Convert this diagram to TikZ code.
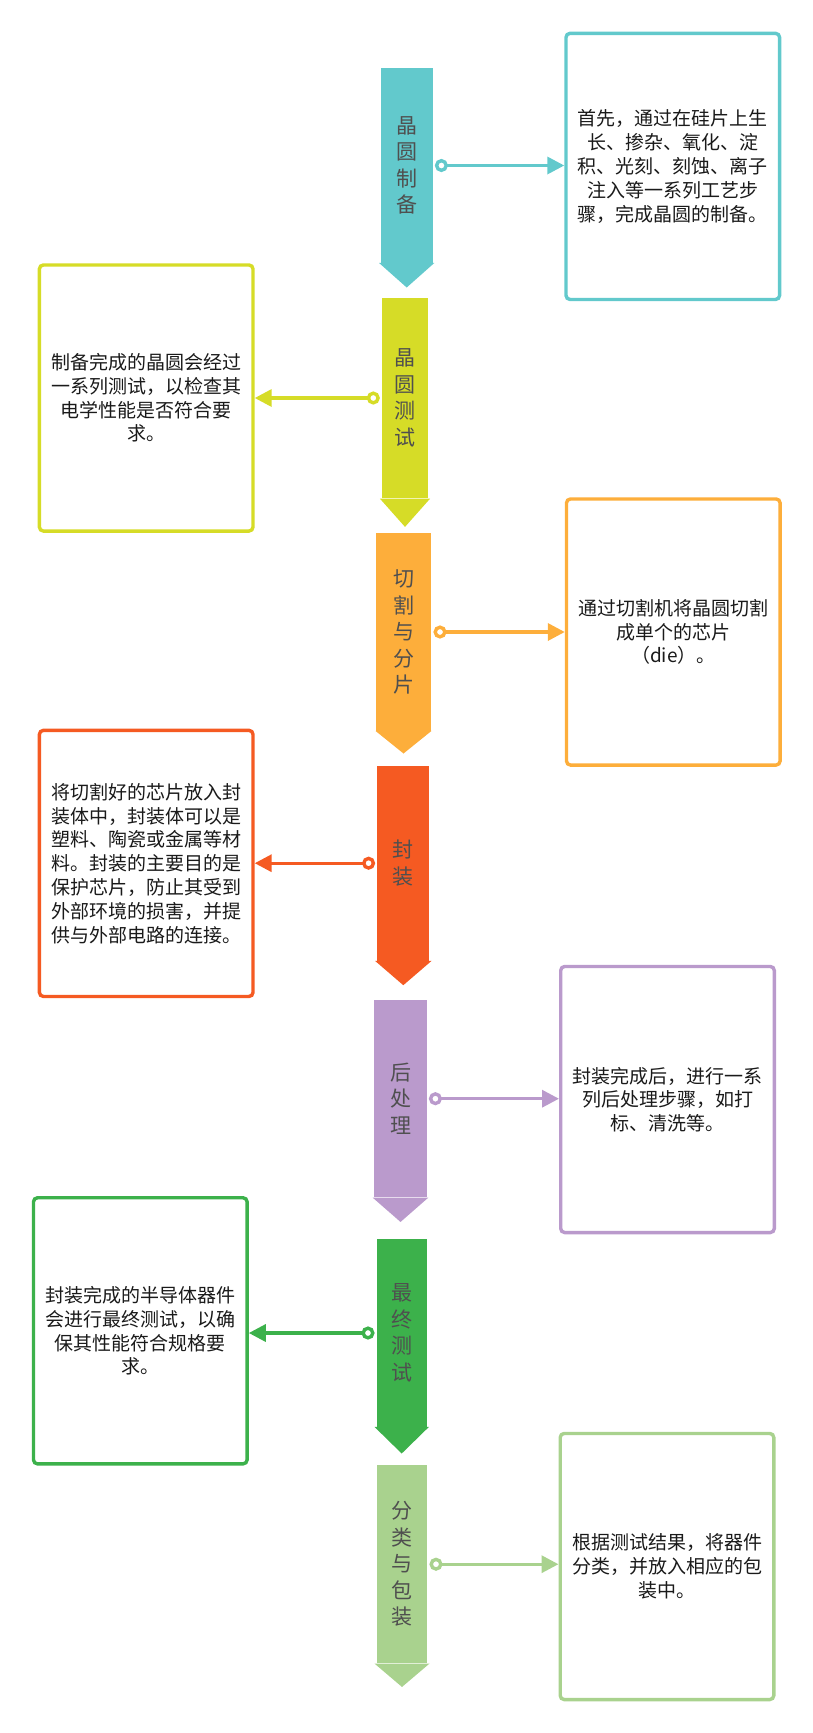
\documentclass[tikz,border=0pt]{standalone}
\usepackage{fontspec}
\setmainfont{Noto Sans CJK SC}
\usetikzlibrary{arrows.meta,calc}
\definecolor{cteal}{HTML}{62C9CC}
\definecolor{cyell}{HTML}{D6DC27}
\definecolor{corng}{HTML}{FDAE3B}
\definecolor{cred}{HTML}{F55A22}
\definecolor{cpurp}{HTML}{BA9ACC}
\definecolor{cgrn}{HTML}{3CB14B}
\definecolor{clgrn}{HTML}{A9D28E}
\definecolor{lblgray}{HTML}{4F4F4F}
\definecolor{txtblack}{HTML}{1A1A1A}
\begin{document}
\begin{tikzpicture}[x=1pt,y=-1pt,
  body/.style={fill=#1, inner sep=0pt, text=lblgray,
    font=\fontsize{21}{26.5}\selectfont, align=center},
  desc/.style={draw=#1, line width=3.4pt, rounded corners=4pt, fill=white,
    minimum width=213.6pt, minimum height=266.1pt, inner sep=0pt,
    text=txtblack, font=\fontsize{19}{23.8}\selectfont, align=center},
  conn/.style={draw=#1, line width=3.4pt, shorten <=2pt,
    {Circle[length=13pt,width=13pt,fill=white]}-{Triangle[length=17pt,width=17pt]}}
]
\useasboundingbox (0,0) rectangle (813,1733);

% ---- process arrows ----
\node[body=cteal, minimum width=52pt, minimum height=194.4pt] (a1) at (406.7,165.5) {晶\\圆\\制\\备};
\fill[cteal] ([xshift=-1.5pt]a1.south west) -- ([xshift=1.5pt]a1.south east) -- ([yshift=-24.6pt]a1.south) -- cycle;

\node[body=cyell, minimum width=46pt, minimum height=200.6pt] (a2) at (405,398) {晶\\圆\\测\\试};
\fill[cyell] ([xshift=-2pt]a2.south west) -- ([xshift=2pt]a2.south east) -- ([yshift=-28.4pt]a2.south) -- cycle;

\node[body=corng, minimum width=55.6pt, minimum height=197.4pt] (a3) at (403.5,632) {切\\割\\与\\分\\片};
\fill[corng] (a3.south west) -- (a3.south east) -- ([yshift=-22.6pt]a3.south) -- cycle;

\node[body=cred, minimum width=52pt, minimum height=195pt] (a4) at (403.3,863.2) {封\\装};
\fill[cred] ([xshift=-2pt]a4.south west) -- ([xshift=2pt]a4.south east) -- ([yshift=-24.3pt]a4.south) -- cycle;

\node[body=cpurp, minimum width=52.4pt, minimum height=197.3pt] (a5) at (400.5,1098.7) {后\\处\\理};
\fill[cpurp] ([xshift=-1.5pt]a5.south west) -- ([xshift=1.5pt]a5.south east) -- ([yshift=-24.4pt]a5.south) -- cycle;

\node[body=cgrn, minimum width=50pt, minimum height=187.4pt] (a6) at (401.7,1333) {最\\终\\测\\试};
\fill[cgrn] ([xshift=-2pt]a6.south west) -- ([xshift=2pt]a6.south east) -- ([yshift=-26.6pt]a6.south) -- cycle;

\node[body=clgrn, minimum width=50.6pt, minimum height=198.3pt] (a7) at (402,1564.2) {分\\类\\与\\包\\装};
\fill[clgrn] ([xshift=-2pt]a7.south west) -- ([xshift=2pt]a7.south east) -- ([yshift=-23.4pt]a7.south) -- cycle;

% ---- description boxes ----
\node[desc=cteal] (b1) at (672.8,166.4) {首先，通过在硅片上生\\长、掺杂、氧化、淀\\积、光刻、刻蚀、离子\\注入等一系列工艺步\\骤，完成晶圆的制备。};
\node[desc=cyell] (b2) at (146.2,398) {制备完成的晶圆会经过\\一系列测试，以检查其\\电学性能是否符合要\\求。};
\node[desc=corng] (b3) at (673.3,632) {通过切割机将晶圆切割\\成单个的芯片\\（die）。};
\node[desc=cred] (b4) at (146.2,863.4) {将切割好的芯片放入封\\装体中，封装体可以是\\塑料、陶瓷或金属等材\\料。封装的主要目的是\\保护芯片，防止其受到\\外部环境的损害，并提\\供与外部电路的连接。};
\node[desc=cpurp] (b5) at (667.5,1099.5) {封装完成后，进行一系\\列后处理步骤，如打\\标、清洗等。};
\node[desc=cgrn] (b6) at (140.3,1330.8) {封装完成的半导体器件\\会进行最终测试，以确\\保其性能符合规格要\\求。};
\node[desc=clgrn] (b7) at (667,1566.5) {根据测试结果，将器件\\分类，并放入相应的包\\装中。};

% ---- connectors ----
\draw[conn=cteal] (a1.east) -- (a1.east -| b1.west);
\draw[conn=cyell] (a2.west) -- (a2.west -| b2.east);
\draw[conn=corng] (a3.east) -- (a3.east -| b3.west);
\draw[conn=cred] (a4.west) -- (a4.west -| b4.east);
\draw[conn=cpurp] (a5.east) -- (a5.east -| b5.west);
\draw[conn=cgrn] (a6.west) -- (a6.west -| b6.east);
\draw[conn=clgrn] (a7.east) -- (a7.east -| b7.west);
\end{tikzpicture}
\end{document}
